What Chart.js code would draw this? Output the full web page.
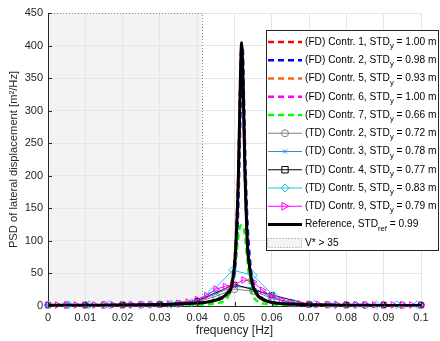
<!DOCTYPE html>
<html>
<head>
<meta charset="utf-8">
<script src="https://cdn.jsdelivr.net/npm/chart.js@4/dist/chart.umd.min.js"></script>
<style>
html, body { margin: 0; padding: 0; background: #fff; }
</style>
</head>
<body>
<canvas id="myChart" width="440" height="341"></canvas>
<script>
// frequency grid of the frequency-domain (FD) curves and the reference [Hz]
const fdFreq = [0, 0.005, 0.01, 0.015, 0.02, 0.025, 0.03, 0.035, 0.04, 0.042, 0.044, 0.046, 0.047, 0.048, 0.049, 0.0495,
  0.05, 0.0505, 0.051, 0.0513, 0.0516, 0.0519, 0.0522, 0.0525, 0.0528, 0.0531, 0.0535, 0.054, 0.0545, 0.055, 0.056,
  0.057, 0.058, 0.06, 0.062, 0.065, 0.07, 0.075, 0.08, 0.085, 0.09, 0.095, 0.1];

// PSD values [m^2/Hz]
const refPSD = [1.0, 1.0, 1.1, 1.3, 1.5, 1.8, 2.2, 3.0, 4.5, 5.5, 7.5, 11, 14, 19, 26, 40,
  62, 110, 190, 270, 355, 404, 365, 290, 205, 150, 90, 62, 42, 30, 18,
  12, 9, 5.5, 4, 3, 2, 1.5, 1.2, 1.0, 0.9, 0.8, 0.7];
const fd1PSD = [0.9, 0.9, 1.0, 1.2, 1.4, 1.7, 2.1, 2.9, 4.6, 5.8, 8, 12, 15, 21, 30, 46,
  70, 120, 200, 280, 360, 400, 355, 280, 200, 145, 92, 60, 41, 29, 17,
  11, 8.5, 5.2, 3.8, 2.8, 1.9, 1.4, 1.1, 0.9, 0.8, 0.7, 0.6];
const fd2PSD = [0.9, 0.9, 1.0, 1.2, 1.4, 1.6, 2.0, 2.7, 4.2, 5.1, 7, 10, 12.5, 16.5, 23, 33,
  50, 85, 150, 220, 300, 380, 395, 330, 250, 185, 125, 80, 52, 36, 21,
  14, 10, 6, 4.3, 3.1, 2.1, 1.5, 1.2, 1.0, 0.9, 0.8, 0.7];
const fd5PSD = [0.9, 0.9, 1.0, 1.2, 1.4, 1.7, 2.1, 2.9, 4.4, 5.4, 7.3, 10.8, 13.6, 18.5, 25, 38,
  60, 105, 185, 265, 350, 400, 362, 288, 203, 148, 89, 61, 41, 29, 17.5,
  11.5, 8.8, 5.3, 3.9, 2.9, 1.9, 1.4, 1.1, 0.9, 0.8, 0.7, 0.6];
const fd6PSD = [1.0, 1.0, 1.1, 1.3, 1.5, 1.8, 2.2, 3.0, 4.6, 5.6, 7.6, 11.2, 14.3, 19.5, 27, 41,
  64, 112, 192, 272, 358, 405, 368, 292, 207, 151, 91, 63, 42, 30, 18,
  12, 9, 5.5, 4, 3, 2, 1.5, 1.2, 1.0, 0.9, 0.8, 0.7];
const fd7PSD = [0.4, 0.4, 0.5, 0.5, 0.6, 0.7, 0.9, 1.2, 1.8, 2.3, 3.2, 5, 7, 12, 25, 40,
  58, 80, 105, 118, 123, 124, 123, 119, 108, 92, 68, 40, 24, 15, 8,
  5, 3.5, 2.5, 2, 1.4, 0.9, 0.7, 0.6, 0.5, 0.4, 0.4, 0.3];

// time-domain (TD) estimates, each on its own frequency grid
const td2Freq = [0, 0.005, 0.01, 0.015, 0.02, 0.025, 0.03, 0.035, 0.04, 0.045, 0.05,
  0.055, 0.06, 0.065, 0.07, 0.075, 0.08, 0.085, 0.09, 0.095, 0.1];
const td2PSD = [1.5, 1.5, 1.5, 1.6, 1.8, 2, 2.5, 3.5, 6, 15, 26, 23, 12, 5, 2.5, 2, 1.7, 1.5, 1.5, 1.4, 1.4];
const td3Freq = td2Freq;
const td3PSD = [1.2, 1.3, 1.4, 1.5, 1.7, 2, 2.5, 3.5, 7, 19, 30, 28, 13, 5, 2.5, 2, 1.6, 1.4, 1.3, 1.2, 1.2];
const td4Freq = [0, 0.01, 0.02, 0.03, 0.04, 0.05, 0.06, 0.07, 0.08, 0.09, 0.1];
const td4PSD = [1.5, 1.6, 1.8, 2.5, 8, 33, 17, 2.5, 1.8, 1.6, 1.5];
const td5Freq = [0, 0.0055, 0.011, 0.0165, 0.022, 0.0275, 0.033, 0.0385, 0.044, 0.0495,
  0.055, 0.0605, 0.066, 0.0715, 0.077, 0.0825, 0.088, 0.0935, 0.099];
const td5PSD = [1.5, 1.8, 1.8, 1.9, 2, 2.2, 2.8, 5, 22, 55, 47, 16, 4, 2.5, 2, 1.8, 1.8, 1.9, 2];
const td9Freq = [0, 0.0025, 0.005, 0.0075, 0.01, 0.0125, 0.015, 0.0175, 0.02, 0.0225, 0.025, 0.0275, 0.03, 0.0325,
  0.035, 0.0375, 0.04, 0.0425, 0.045, 0.0475, 0.05, 0.0525, 0.055, 0.0575, 0.06, 0.0625, 0.065, 0.0675,
  0.07, 0.0725, 0.075, 0.0775, 0.08, 0.0825, 0.085, 0.0875, 0.09, 0.0925, 0.095, 0.0975, 0.1];
const td9PSD = [1.5, 1.5, 1.5, 1.5, 1.5, 1.5, 1.6, 1.6, 1.7, 1.8, 2, 2.2, 2.5, 3,
  4, 6, 10, 16, 26, 30, 33, 40, 37, 24, 15, 9, 5, 3.5,
  2.8, 2.4, 2.1, 2, 1.9, 1.8, 1.8, 1.7, 1.7, 1.7, 1.6, 1.6, 1.6];

// legend names and standard deviations
const fdNames = ['(FD) Contr. 1', '(FD) Contr. 2', '(FD) Contr. 5', '(FD) Contr. 6', '(FD) Contr. 7'];
const fdStd = [1.00, 0.98, 0.93, 1.00, 0.66];
const tdNames = ['(TD) Contr. 2', '(TD) Contr. 3', '(TD) Contr. 4', '(TD) Contr. 5', '(TD) Contr. 9'];
const tdStd = [0.72, 0.78, 0.77, 0.83, 0.79];
const refStd = 0.99;
const vStarRange = [0, 0.0413];
const vStarLabel = 'V* > 35';

const xRange = [0, 0.1];
const yRange = [0, 450];

const FONT = '"Liberation Sans", Arial, Helvetica, sans-serif';
const TXT = '#262626';

function pts(xs, ys) {
  return xs.map((x, i) => ({x: x, y: ys[i]}));
}

function fdSet(name, std, xs, ys, color, order) {
  return {
    label: name, std: std, sub: 'y', unit: ' m',
    data: pts(xs, ys), borderColor: color, backgroundColor: color,
    borderWidth: 2.5, borderDash: [6, 4], pointRadius: 0,
    cubicInterpolationMode: 'monotone', order: order
  };
}

function tdSet(name, std, xs, ys, color, style, radius, rot, order) {
  return {
    label: name, std: std, sub: 'y', unit: ' m',
    data: pts(xs, ys), borderColor: color, backgroundColor: 'rgba(0,0,0,0)',
    borderWidth: 1, pointStyle: style, pointRadius: radius, pointRotation: rot,
    pointBorderColor: color, pointBorderWidth: 1, pointHoverRadius: radius,
    tension: 0, clip: false, order: order
  };
}

const fdColors = ['#ff0000', '#0000ff', '#ff6414', '#ff00ff', '#00ff00'];
const fdValues = [fd1PSD, fd2PSD, fd5PSD, fd6PSD, fd7PSD];

var datasets = [];
for (var i = 0; i < 5; i++) {
  datasets.push(fdSet(fdNames[i], fdStd[i], fdFreq, fdValues[i], fdColors[i], 10 - i));
}
datasets.push(tdSet(tdNames[0], tdStd[0], td2Freq, td2PSD, '#808080', 'circle', 3.5, 0, 5));
datasets.push(tdSet(tdNames[1], tdStd[1], td3Freq, td3PSD, '#2b8ce0', 'crossRot', 3, 0, 4));
datasets.push(tdSet(tdNames[2], tdStd[2], td4Freq, td4PSD, '#000000', 'rect', 3.2, 0, 3));
datasets.push(tdSet(tdNames[3], tdStd[3], td5Freq, td5PSD, '#19c3f0', 'rectRot', 4, 0, 2));
datasets.push(tdSet(tdNames[4], tdStd[4], td9Freq, td9PSD, '#ff00ff', 'triangle', 3.8, 90, 1));
datasets.push({
  label: 'Reference', std: refStd, sub: 'ref', unit: '',
  data: pts(fdFreq, refPSD), borderColor: '#000000', backgroundColor: '#000000',
  borderWidth: 3, pointRadius: 0, cubicInterpolationMode: 'monotone', order: 0
});

// light grey patch where V* > 35
const vStarPlugin = {
  id: 'vstar',
  beforeDraw(chart) {
    const {ctx, scales: {x, y}} = chart;
    const l = x.getPixelForValue(vStarRange[0]), r = x.getPixelForValue(vStarRange[1]);
    const t = y.getPixelForValue(yRange[1]), b = y.getPixelForValue(yRange[0]);
    ctx.save();
    ctx.fillStyle = '#f3f3f3';
    ctx.fillRect(l, t, r - l, b - t);
    ctx.restore();
  },
  beforeDatasetsDraw(chart) {
    const {ctx, scales: {x, y}} = chart;
    const l = x.getPixelForValue(vStarRange[0]), r = Math.round(x.getPixelForValue(vStarRange[1])) + 0.5;
    const t = Math.round(y.getPixelForValue(yRange[1])) + 0.5, b = y.getPixelForValue(yRange[0]);
    ctx.save();
    ctx.strokeStyle = '#8a8a8a';
    ctx.lineWidth = 1;
    ctx.setLineDash([1, 2]);
    ctx.beginPath();
    ctx.moveTo(l, t); ctx.lineTo(r, t); ctx.lineTo(r, b);
    ctx.stroke();
    ctx.restore();
  }
};

// inward tick marks, matlab style
const tickPlugin = {
  id: 'inticks',
  afterDatasetsDraw(chart) {
    const {ctx, scales: {x, y}, chartArea: a} = chart;
    ctx.save();
    ctx.strokeStyle = TXT;
    ctx.lineWidth = 1;
    x.ticks.forEach(t => {
      const px = Math.round(x.getPixelForValue(t.value)) + 0.5;
      ctx.beginPath(); ctx.moveTo(px, a.bottom); ctx.lineTo(px, a.bottom - 4); ctx.stroke();
    });
    y.ticks.forEach(t => {
      const py = Math.round(y.getPixelForValue(t.value)) + 0.5;
      ctx.beginPath(); ctx.moveTo(a.left, py); ctx.lineTo(a.left + 4, py); ctx.stroke();
    });
    ctx.restore();
  }
};

function drawMarker(ctx, style, r, rot, x, y) {
  ctx.beginPath();
  if (style === 'circle') {
    ctx.arc(x, y, r, 0, Math.PI * 2);
  } else if (style === 'rect') {
    ctx.rect(x - r, y - r, 2 * r, 2 * r);
  } else if (style === 'rectRot') {
    ctx.moveTo(x, y - r); ctx.lineTo(x + r, y); ctx.lineTo(x, y + r); ctx.lineTo(x - r, y); ctx.closePath();
  } else if (style === 'crossRot') {
    ctx.moveTo(x - r * 0.7, y - r * 0.7); ctx.lineTo(x + r * 0.7, y + r * 0.7);
    ctx.moveTo(x + r * 0.7, y - r * 0.7); ctx.lineTo(x - r * 0.7, y + r * 0.7);
  } else if (style === 'triangle') {
    ctx.moveTo(x + r, y); ctx.lineTo(x - r * 0.8, y - r); ctx.lineTo(x - r * 0.8, y + r); ctx.closePath();
  }
  ctx.stroke();
}

// legend with subscripts
const legendPlugin = {
  id: 'mlegend',
  afterDraw(chart) {
    const ctx = chart.ctx;
    const box = {l: 266.5, t: 30.5, r: 438.5, b: 250.5};
    const y0 = 42, gap = 18.25;
    const lx0 = 268, lx1 = 302, tx = 305;
    const main = '10.2px ' + FONT, small = '7.6px ' + FONT;
    ctx.save();
    ctx.fillStyle = '#ffffff';
    ctx.fillRect(box.l, box.t, box.r - box.l, box.b - box.t);
    ctx.strokeStyle = '#262626';
    ctx.lineWidth = 1;
    ctx.strokeRect(box.l, box.t, box.r - box.l, box.b - box.t);
    ctx.textBaseline = 'middle';
    ctx.textAlign = 'left';
    // legend order = dataset order in the array
    const ds = chart.data.datasets;
    ds.forEach((d, i) => {
      const y = y0 + i * gap;
      ctx.save();
      ctx.strokeStyle = d.borderColor;
      ctx.lineWidth = d.borderWidth;
      ctx.setLineDash(d.borderDash || []);
      ctx.beginPath(); ctx.moveTo(lx0, y); ctx.lineTo(lx1, y); ctx.stroke();
      ctx.setLineDash([]);
      if (d.pointRadius > 0) {
        ctx.lineWidth = 1;
        drawMarker(ctx, d.pointStyle, d.pointRadius, d.pointRotation, (lx0 + lx1) / 2, y);
      }
      ctx.restore();
      ctx.fillStyle = '#000';
      ctx.font = main;
      let s = d.label + ', STD';
      ctx.fillText(s, tx, y);
      let w = ctx.measureText(s).width;
      ctx.font = small;
      ctx.fillText(d.sub, tx + w, y + 4);
      w += ctx.measureText(d.sub).width;
      ctx.font = main;
      ctx.fillText(' = ' + d.std.toFixed(2) + d.unit, tx + w, y);
    });
    // patch entry
    const yp = y0 + ds.length * gap;
    ctx.fillStyle = '#f3f3f3';
    ctx.fillRect(lx0 - 1, yp - 4.5, lx1 - lx0 + 1, 9);
    ctx.strokeStyle = '#8a8a8a';
    ctx.setLineDash([1, 2]);
    ctx.strokeRect(lx0 - 0.5, Math.round(yp - 4.5) + 0.5, lx1 - lx0, 9);
    ctx.setLineDash([]);
    ctx.fillStyle = '#000';
    ctx.font = main;
    ctx.fillText(vStarLabel, tx, yp);
    ctx.restore();
  }
};

var config = {
  type: 'line',
  data: {datasets: datasets},
  options: {
    responsive: false,
    devicePixelRatio: 1,
    animation: false,
    events: [],
    layout: {autoPadding: false, padding: {top: 13, right: 19, left: 0, bottom: 0}},
    plugins: {legend: {display: false}, tooltip: {enabled: false}},
    scales: {
      x: {
        type: 'linear', min: xRange[0], max: xRange[1],
        afterFit: s => { s.height = 35; },
        ticks: {stepSize: 0.01, color: TXT, padding: 5, font: {family: FONT, size: 11},
          maxRotation: 0, autoSkip: false,
          callback: v => String(Math.round(v * 100) / 100)},
        grid: {color: '#e6e6e6', drawTicks: false},
        border: {color: TXT},
        title: {display: true, text: 'frequency [Hz]', color: TXT, font: {family: FONT, size: 12}, padding: {bottom: 3, top: 0}}
      },
      y: {
        min: yRange[0], max: yRange[1],
        afterFit: s => { s.width = 48; },
        ticks: {stepSize: 50, color: TXT, padding: 5, font: {family: FONT, size: 11}},
        grid: {color: '#e6e6e6', drawTicks: false},
        border: {color: TXT},
        title: {display: true, text: 'PSD of lateral displacement [m²/Hz]', color: TXT, font: {family: FONT, size: 11.2}, padding: {top: 7, bottom: 0}}
      }
    }
  },
  plugins: [vStarPlugin, tickPlugin, legendPlugin]
};

var myChart = new Chart(document.getElementById('myChart'), config);
</script>
</body>
</html>
